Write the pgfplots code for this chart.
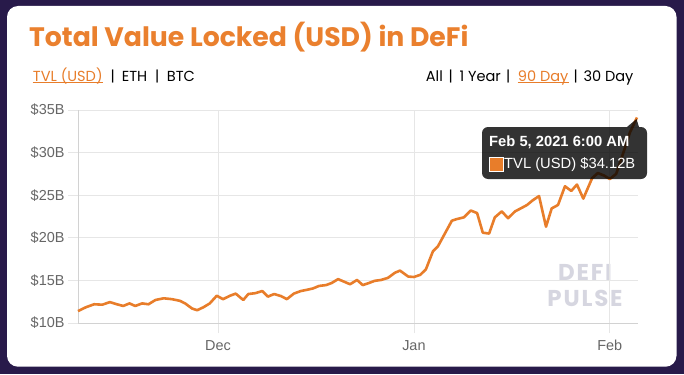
\documentclass[border=0pt]{standalone}
\usepackage{pgfplots}
\pgfplotsset{compat=1.18}
\usepackage{fontspec}
\setmainfont{Liberation Sans}
\newfontfamily\pop{Poppins}
\newfontfamily\wmfont[LetterSpace=8]{Poppins}
\definecolor{bgpurple}{RGB}{40,26,74}
\definecolor{tvlorange}{RGB}{232,125,42}
\definecolor{titleorange}{RGB}{234,128,46}
\definecolor{gridgray}{RGB}{230,230,230}
\definecolor{axgray}{RGB}{210,210,210}
\definecolor{ticklab}{RGB}{102,102,102}
\definecolor{wmgray}{RGB}{214,214,224}
\begin{document}
\begin{tikzpicture}[x=1bp,y=1bp]
\path[use as bounding box] (0,0) rectangle (684,374);
\fill[bgpurple] (0,0) rectangle (684,374);
\fill[white, rounded corners=11bp] (7,7.3) rectangle (676.5,368);
% title
\node[anchor=base west, inner sep=0pt, text=titleorange] at (29,327.3) {\pop\bfseries\fontsize{26.8}{31}\selectfont Total Value Locked (USD) in DeFi};
% links
\begin{scope}[every node/.style={anchor=base west, inner sep=0pt}]
\def\lk{\pop\fontsize{14.6}{17}\selectfont}
\node[text=tvlorange] (tvl) at (32.7,293) {\lk TVL (USD)};
\draw[tvlorange, line width=0.8bp] ([yshift=-1.6bp]tvl.base west) -- ([yshift=-1.6bp]tvl.base east);
\node[anchor=base] at (112.7,293) {\lk |};
\node at (121.7,293) {\lk ETH};
\node[anchor=base] at (157.3,293) {\lk |};
\node at (166.7,293) {\lk BTC};
\node at (425.7,293) {\lk All};
\node[anchor=base] at (450.7,293) {\lk |};
\node at (459.3,293) {\lk 1 Year};
\node[anchor=base] at (508.3,293) {\lk |};
\node[text=tvlorange] (nd) at (517.7,293) {\lk 90 Day};
\draw[tvlorange, line width=0.8bp] ([yshift=-1.6bp]nd.base west) -- ([yshift=-1.6bp]nd.base east);
\node[anchor=base] at (575.7,293) {\lk |};
\node at (583.3,293) {\lk 30 Day};
\end{scope}
% watermark
\node[anchor=base, inner sep=0pt, text=wmgray] at (585,93.3) {\wmfont\bfseries\fontsize{23}{25}\selectfont DEFI};
\node[anchor=base, inner sep=0pt, text=wmgray] at (585,67.3) {\wmfont\bfseries\fontsize{23}{25}\selectfont PULSE};
\begin{axis}[
  at={(78bp,51bp)}, anchor=south west,
  scale only axis, width=560bp, height=213bp,
  xmin=-22.15, xmax=66.46, ymin=10, ymax=35,
  axis lines=left,
  axis line style={-, draw=axgray, line width=0.8bp},
  xtick={0,31,62}, xticklabels={Dec,Jan,Feb},
  ytick={10,15,20,25,30,35},
  yticklabels={\$10B,\$15B,\$20B,\$25B,\$30B,\$35B},
  grid=major, major grid style={draw=gridgray, line width=0.8bp},
  tick align=outside, major tick length=10bp,
  tick style={draw=gridgray, line width=0.8bp},
  ticklabel style={font=\fontsize{14.5}{17}\selectfont, text=ticklab},
  xticklabel style={yshift=-4bp},
  clip=false,
]
\addplot[tvlorange, line width=2.6bp, line join=round] coordinates {
(-22.15,11.4) (-20.9,11.85) (-19.6,12.2) (-18.3,12.15) (-17.1,12.45) (-16.0,12.2)
(-15.0,12.0) (-14.0,12.3) (-13.1,12.0) (-12.0,12.3) (-11.0,12.2) (-9.9,12.7)
(-8.6,12.9) (-7.3,12.8) (-6.0,12.6) (-5.2,12.3) (-4.1,11.7) (-3.3,11.5)
(-2.3,11.85) (-1.3,12.3) (-0.2,13.2) (0.8,12.8) (1.9,13.2) (2.8,13.45)
(4.0,12.7) (4.8,13.4) (5.9,13.5) (7.0,13.75) (7.9,13.1) (8.9,13.4)
(10.0,13.15) (10.9,12.8) (12.0,13.45) (13.1,13.75) (14.1,13.9) (15.0,14.05)
(16.0,14.35) (17.1,14.45) (18.0,14.7) (19.0,15.15) (20.9,14.55) (22.0,15.05)
(22.9,14.45) (23.9,14.7) (24.8,14.95) (25.8,15.05) (26.9,15.3) (28.0,15.9)
(28.8,16.15) (30.1,15.45) (31.0,15.4) (32.0,15.65) (32.9,16.3) (34.0,18.4)
(34.8,19.0) (35.9,20.5) (37.0,22.0) (37.8,22.2) (38.9,22.4) (40.0,23.2)
(41.0,22.9) (41.9,20.6) (42.9,20.5) (43.8,22.4) (44.9,23.1) (45.9,22.3)
(47.0,23.1) (47.9,23.45) (48.9,23.85) (49.8,24.4) (50.8,24.9) (51.9,21.3)
(52.8,23.45) (53.8,23.85) (54.9,26.05) (55.9,25.5) (56.8,26.25) (57.8,24.6)
(59.2,27.0) (60.1,27.6) (61.1,27.3) (62.0,26.9) (63.0,27.5) (64.1,29.9)
(65.2,32.4) (66.3,34.12)
};
\end{axis}
% tooltip
\fill[black, fill opacity=0.8, rounded corners=6bp] (482,195) rectangle (647,247);
\fill[black, fill opacity=0.8] (627,247) -- (639,247) -- (636.5,255) -- cycle;
\node[anchor=base west, inner sep=0pt, text=white] at (489,227.3) {\bfseries\fontsize{14.8}{17}\selectfont Feb 5, 2021 6:00 AM};
\filldraw[fill=tvlorange, draw=white, line width=0.8bp] (489,202.5) rectangle (503,216.5);
\node[anchor=base west, inner sep=0pt, text=white] at (504,205.5) {\fontsize{14.8}{17}\selectfont TVL (USD) \$34.12B};
\end{tikzpicture}
\end{document}
